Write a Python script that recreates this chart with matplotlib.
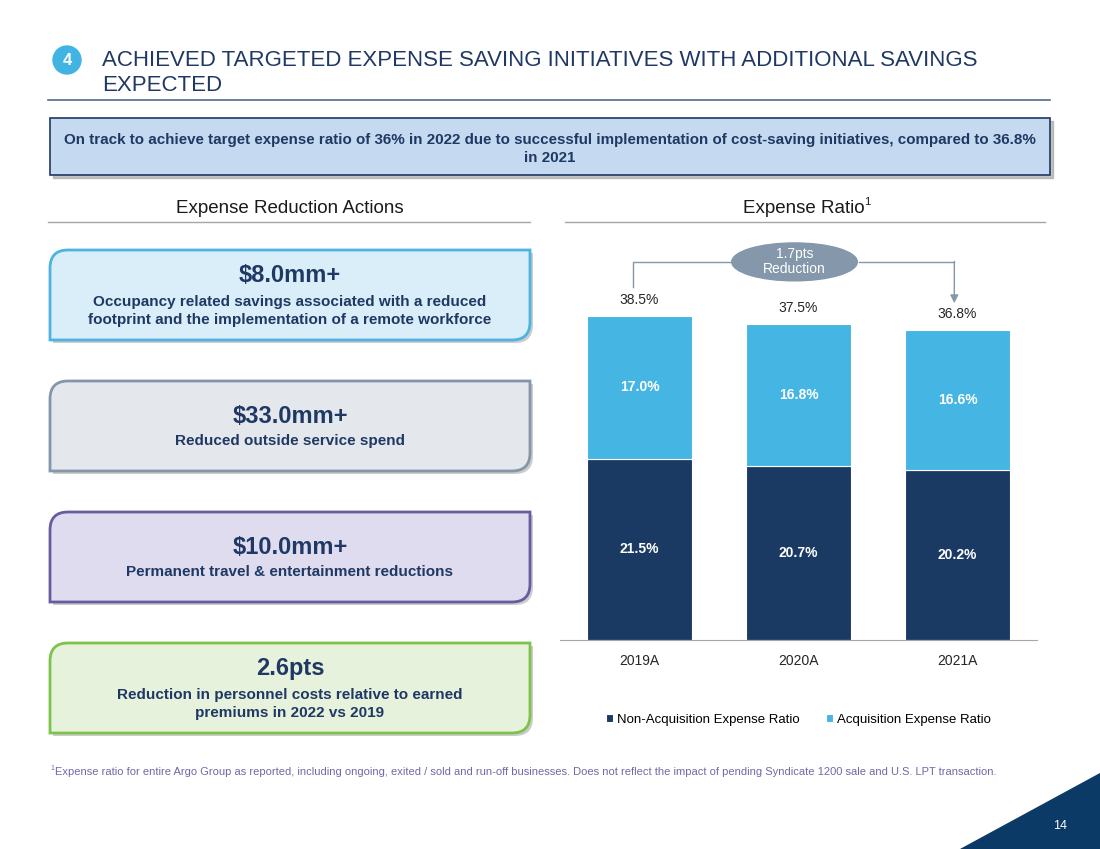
import matplotlib
matplotlib.use("Agg")
import matplotlib.pyplot as plt
from matplotlib.patches import PathPatch, Ellipse, Rectangle, Circle, Polygon
from matplotlib.path import Path

plt.rcParams["font.family"] = ["Liberation Sans", "DejaVu Sans"]

years = ["2019A", "2020A", "2021A"]
non_acq = [21.5, 20.7, 20.2]
acq = [17.0, 16.8, 16.6]
totals = [38.5, 37.5, 36.8]

actions = [
    ("$8.0mm+", "Occupancy related savings associated with a reduced\nfootprint and the implementation of a remote workforce"),
    ("$33.0mm+", "Reduced outside service spend"),
    ("$10.0mm+", "Permanent travel & entertainment reductions"),
    ("2.6pts", "Reduction in personnel costs relative to earned\npremiums in 2022 vs 2019"),
]
box_fill = ["#DAEEF9", "#E4E8EC", "#DEDCEE", "#E6F2DC"]
box_edge = ["#4DB3E0", "#8496A9", "#6A5AA0", "#7DC24A"]

NAVY = "#1F3864"
DARK = "#1A3A63"
LIGHT = "#45B5E3"
GREY = "#8497AB"

W, H = 1100, 849
fig = plt.figure(figsize=(W / 100, H / 100), dpi=100)

bg = fig.add_axes([0, 0, 1, 1])
bg.set_xlim(0, W)
bg.set_ylim(H, 0)
bg.axis("off")

# header
bg.add_patch(Circle((67, 60), 14, color="#41B4E4"))
bg.text(67, 60, "4", color="white", fontsize=12, fontweight="bold", ha="center", va="center")
bg.text(102, 60, "ACHIEVED TARGETED EXPENSE SAVING INITIATIVES WITH ADDITIONAL SAVINGS",
        color=NAVY, fontsize=16, va="center")
bg.text(102, 85, "EXPECTED", color=NAVY, fontsize=16, va="center")
bg.plot([48, 1050], [100, 100], color="#4F6A8C", lw=1.2)

# summary banner
bg.add_patch(Rectangle((53, 121), 1000, 57, color="#9A9A9A", alpha=0.6))
bg.add_patch(Rectangle((50, 118), 1000, 57, fc="#C5DAF0", ec=NAVY, lw=1.2))
bg.text(550, 140, "On track to achieve target expense ratio of 36% in 2022 due to successful "
        "implementation of cost-saving initiatives, compared to 36.8%",
        color=NAVY, fontsize=10.9, fontweight="bold", ha="center", va="center")
bg.text(550, 158, "in 2021", color=NAVY, fontsize=10.9, fontweight="bold", ha="center", va="center")

# section headings
bg.text(290, 208, "Expense Reduction Actions", fontsize=13.5, color="#1A1A1A", ha="center", va="center")
bg.plot([48, 530], [222, 222], color="#A6A6A6", lw=1)
bg.text(865, 208, "Expense Ratio", fontsize=13.5, color="#1A1A1A", ha="right", va="center")
bg.text(864, 202, "1", fontsize=8, color="#1A1A1A", ha="left", va="center")
bg.plot([565, 1045], [222, 222], color="#A6A6A6", lw=1)


def diag_box(x0, y0, x1, y1, r):
    verts = [(x0, y0 + r), (x0, y0), (x0 + r, y0), (x1, y0), (x1, y1 - r),
             (x1, y1), (x1 - r, y1), (x0, y1), (x0, y0 + r)]
    codes = [Path.MOVETO, Path.CURVE3, Path.CURVE3, Path.LINETO, Path.LINETO,
             Path.CURVE3, Path.CURVE3, Path.LINETO, Path.CLOSEPOLY]
    return Path(verts, codes)


box_tops = [250, 381, 512, 643]
for (head, sub), top, fc, ec in zip(actions, box_tops, box_fill, box_edge):
    bg.add_patch(PathPatch(diag_box(53, top + 3, 533, top + 93, 18), fc="#9A9A9A", ec="none", alpha=0.5))
    bg.add_patch(PathPatch(diag_box(50, top, 530, top + 90, 18), fc=fc, ec=ec, lw=2))
    if "\n" in sub:
        bg.text(290, top + 25, head, fontsize=17, fontweight="bold", color=NAVY, ha="center", va="center")
        bg.text(290, top + 61, sub, fontsize=11, fontweight="bold", color=NAVY, ha="center",
                va="center", linespacing=1.45)
    else:
        bg.text(290, top + 35, head, fontsize=17, fontweight="bold", color=NAVY, ha="center", va="center")
        bg.text(290, top + 60, sub, fontsize=11, fontweight="bold", color=NAVY, ha="center", va="center")

# footnote & page corner
bg.text(50, 769, "1", fontsize=5, color="#7566A6", va="center")
bg.text(55, 772, "Expense ratio for entire Argo Group as reported, including ongoing, exited / sold and "
        "run-off businesses. Does not reflect the impact of pending Syndicate 1200 sale and U.S. LPT transaction.",
        fontsize=8.0, color="#7566A6", va="center")
bg.add_patch(Polygon([(960, H), (W, H), (W, 773)], color="#0B3A66"))
bg.text(1060, 826, "14", color="white", fontsize=9, ha="center", va="center")

# chart
ax = fig.add_axes([560 / W, (H - 640) / H, 477 / W, 400 / H])
ax.set_facecolor("none")
x = range(len(years))
b1 = ax.bar(x, non_acq, width=0.66, color=DARK, edgecolor="white", lw=0.8,
            label="Non-Acquisition Expense Ratio")
b2 = ax.bar(x, acq, width=0.66, bottom=non_acq, color=LIGHT, edgecolor="white", lw=0.8,
            label="Acquisition Expense Ratio")
for i in x:
    ax.text(i, non_acq[i] / 2, f"{non_acq[i]:.1f}%", color="white", fontsize=10,
            fontweight="bold", ha="center", va="center")
    ax.text(i, non_acq[i] + acq[i] / 2, f"{acq[i]:.1f}%", color="white", fontsize=10,
            fontweight="bold", ha="center", va="center")
    ax.text(i, totals[i] + 1.9, f"{totals[i]:.1f}%", color="#262626", fontsize=10,
            ha="center", va="center")

ax.set_xlim(-0.5, 2.5)
ax.set_ylim(0, 47.5)
ax.set_yticks([])
ax.set_xticks(list(x))
ax.set_xticklabels(years, fontsize=10, color="#262626")
ax.tick_params(axis="x", length=0, pad=10)
for s in ["top", "left", "right"]:
    ax.spines[s].set_visible(False)
ax.spines["bottom"].set_color("#A6A6A6")

# reduction bracket
yb = 44.9
ax.plot([-0.04, -0.04, 0.575], [totals[0] + 3.4, yb, yb], color=GREY, lw=1, clip_on=False)
ax.plot([1.38, 1.98], [yb, yb], color=GREY, lw=1, clip_on=False)
ax.annotate("", xy=(1.98, totals[2] + 3.2), xytext=(1.98, yb + 0.06),
            arrowprops=dict(arrowstyle="-|>", color=GREY, lw=1, mutation_scale=12,
                            shrinkA=0, shrinkB=0), annotation_clip=False)
ax.add_patch(Ellipse((0.975, yb), 0.79, 4.5, color=GREY, clip_on=False))
ax.text(0.975, yb, "1.7pts\nReduction", color="white", fontsize=10, ha="center",
        va="center", linespacing=1.1)

ax.legend(handles=[b1, b2], loc="center", bbox_to_anchor=(0.5, -0.2), ncol=2,
          frameon=False, fontsize=9.5, handlelength=0.55, handleheight=0.55,
          handletextpad=0.3, columnspacing=2.0)

fig.savefig("out.png", dpi=100)
